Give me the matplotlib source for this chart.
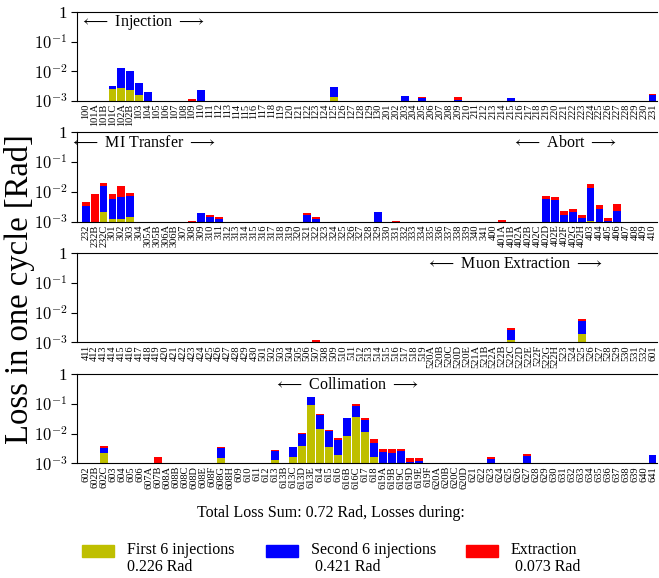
import matplotlib
matplotlib.use("Agg")
import matplotlib.pyplot as plt
import numpy as np
from matplotlib.patches import Rectangle

plt.rcParams["font.family"] = ["Liberation Serif", "DejaVu Serif"]
plt.rcParams["mathtext.fontset"] = "cm"

# ---- tick labels (loss monitor names) per panel ----
labels_1 = (["100", "101A", "101B", "101C", "102A", "102B"]
            + [str(i) for i in range(103, 131)]
            + [str(i) for i in range(201, 232)])
labels_2 = (["232", "232B", "232C", "301", "302", "303", "304",
             "305A", "305B", "306A", "306B"]
            + [str(i) for i in range(307, 342)]
            + ["400", "401A", "401B"] + ["402" + c for c in "ABCDEFGH"]
            + [str(i) for i in range(403, 411)])
labels_3 = ([str(i) for i in range(411, 431)]
            + [str(i) for i in range(501, 520)]
            + ["520" + c for c in "ABCDE"] + ["521A", "521B"]
            + ["522" + c for c in "ABCDEFGH"]
            + [str(i) for i in range(523, 533)] + ["601"])
labels_4 = (["602", "602B", "602C", "603", "604", "605", "606", "607A", "607B"]
            + ["608" + c for c in "ABCDEFGH"]
            + ["609", "610", "611", "612", "613", "613B", "613C", "613D", "613E",
               "614", "615", "616", "616B", "616C", "617", "618"]
            + ["619" + c for c in "ABCDEF"] + ["620" + c for c in "ABCD"]
            + [str(i) for i in range(621, 642)])

# ---- losses [Rad]: first 6 injections, second 6 injections, extraction ----
first_1 = {"101C": 0.00243, "102A": 0.00275, "102B": 0.00236, "103": 0.00155,
           "125": 0.00137}
second_1 = {"101C": 0.00071, "102A": 0.00995, "102B": 0.00784, "103": 0.00245,
            "104": 0.0020, "110": 0.0023, "125": 0.00153, "203": 0.00148,
            "205": 0.00123, "209": 0.00105, "215": 0.00123, "231": 0.00155}
extr_1 = {"102B": 0.0002, "109": 0.00111, "205": 0.0001, "209": 0.00025,
          "231": 0.00017}

first_2 = {"232C": 0.00211, "301": 0.00123, "302": 0.00123, "303": 0.00147,
           "403": 0.00108}
second_2 = {"232": 0.00336, "232C": 0.01363, "301": 0.00452, "302": 0.0055,
            "303": 0.00579, "309": 0.00195, "310": 0.00147, "311": 0.00123,
            "321": 0.00172, "322": 0.00123, "329": 0.00211, "402D": 0.00575,
            "402E": 0.0052, "402F": 0.00172, "402G": 0.00206, "402H": 0.00133,
            "403": 0.01276, "404": 0.00266, "405": 0.00105, "406": 0.00228}
extr_2 = {"232": 0.00121, "232B": 0.00847, "232C": 0.00426, "301": 0.00272,
          "302": 0.00901, "303": 0.0019, "308": 0.00108, "310": 0.00025,
          "311": 0.0002, "321": 0.00023, "322": 0.00024, "331": 0.00102,
          "401A": 0.00114, "402D": 0.00151, "402E": 0.00153, "402F": 0.00056,
          "402G": 0.0006, "402H": 0.00034, "403": 0.00453, "404": 0.00096,
          "405": 0.00028, "406": 0.00164}

first_3 = {"522C": 0.0012, "525": 0.00195}
second_3 = {"522C": 0.00139, "525": 0.00311}
extr_3 = {"507": 0.0012, "522C": 0.00043, "525": 0.00083}

first_4 = {"602C": 0.00222, "608G": 0.00147, "613": 0.0013, "613C": 0.00167,
           "613D": 0.00393, "613E": 0.0935, "614": 0.0146, "615": 0.00363,
           "616": 0.00195, "616B": 0.00828, "616C": 0.037, "617": 0.0113,
           "618": 0.00167}
second_4 = {"602C": 0.00105, "608G": 0.0018, "613": 0.00129, "613C": 0.00196,
            "613D": 0.00573, "613E": 0.0715, "614": 0.0274, "615": 0.00887,
            "616": 0.00413, "616B": 0.02422, "616C": 0.0473, "617": 0.0173,
            "618": 0.00327, "619A": 0.0024, "619B": 0.00222, "619C": 0.00266,
            "619D": 0.0011, "619E": 0.0012, "623": 0.0014, "627": 0.00176,
            "641": 0.0019}
extr_4 = {"602": 0.00103, "602C": 0.00066, "607B": 0.00167, "608B": 0.00103,
          "608G": 0.00018, "610": 0.00103, "613": 0.00021, "613D": 0.0004,
          "613E": 0.007, "614": 0.002, "615": 0.0004, "616": 0.0012,
          "616B": 0.0015, "616C": 0.0141, "617": 0.0056, "618": 0.00181,
          "619A": 0.00062, "619B": 0.0008, "619C": 0.00036, "619D": 0.00041,
          "619E": 0.00031, "623": 0.00023, "627": 0.00035}

# region annotations: (text, x centre in axes fraction)
regions_1 = [("Injection", 0.112)]
regions_2 = [("MI Transfer", 0.113), ("Abort", 0.84)]
regions_3 = [("Muon Extraction", 0.754)]
regions_4 = [("Collimation", 0.464)]

totals = {"First 6 injections": 0.226, "Second 6 injections": 0.421,
          "Extraction": 0.073}
total_sum = 0.72

c_first, c_second, c_extr = (0.75, 0.75, 0.0), (0.0, 0.0, 1.0), (1.0, 0.0, 0.0)

W, H = 659, 578
fig = plt.figure(figsize=(W / 100, H / 100), dpi=100)

panels = [
    (labels_1, first_1, second_1, extr_1, regions_1, 12.0, 100.7),
    (labels_2, first_2, second_2, extr_2, regions_2, 132.3, 221.7),
    (labels_3, first_3, second_3, extr_3, regions_3, 253.0, 342.3),
    (labels_4, first_4, second_4, extr_4, regions_4, 374.0, 463.3),
]

x_left, x_right = 77, 657
for labels, f1, s2, ex, regs, top, bot in panels:
    ax = fig.add_axes([x_left / W, 1 - bot / H, (x_right - x_left) / W, (bot - top) / H])
    n = len(labels)
    x = np.arange(n)
    a = np.array([f1.get(l, 0.0) for l in labels])
    b = np.array([s2.get(l, 0.0) for l in labels])
    c = np.array([ex.get(l, 0.0) for l in labels])
    cum1, cum2, cum3 = a, a + b, a + b + c
    for cum, comp, col in [(cum3, c, c_extr), (cum2, b, c_second), (cum1, a, c_first)]:
        m = comp > 0
        ax.bar(x[m], cum[m], width=0.88, color=col, linewidth=0)
    ax.set_yscale("log")
    ax.set_ylim(1e-3, 1)
    ax.set_xlim(-1, n - 0.5)
    ax.set_yticks([1e-3, 1e-2, 1e-1, 1])
    ax.set_yticklabels([r"$10^{-3}$", r"$10^{-2}$", r"$10^{-1}$", "1"], fontsize=12)
    ax.minorticks_off()
    ax.set_xticks(x)
    ax.set_xticklabels(labels, rotation=90, fontsize=7.5)
    ax.tick_params(axis="x", length=0, pad=2)
    ax.tick_params(axis="y", length=4, direction="out", pad=3)
    ax.spines["right"].set_visible(False)
    for name, xc in regs:
        ax.text(xc, 0.88, r"$\longleftarrow$ " + name + r" $\longrightarrow$",
                transform=ax.transAxes, ha="center", va="center", fontsize=11.5)

fig.text(20 / W, 0.5, "Loss in one cycle [Rad]", rotation=90, ha="center",
         va="center", fontsize=23.5)

fig.text(0.502, 1 - 513 / H, "Total Loss Sum: %.2f Rad, Losses during:" % total_sum,
         ha="center", va="center", fontsize=11.5)

patch_x = [82, 266, 466]
text_pad = ["", " ", " "]
for (name, val), px, col, pad in zip(totals.items(), patch_x,
                                     [c_first, c_second, c_extr], text_pad):
    fig.patches.append(Rectangle((px / W, 1 - 557 / H), 32 / W, 12 / H,
                                 transform=fig.transFigure, color=col))
    fig.text((px + 45) / W, 1 - 550 / H, name, ha="left", va="center", fontsize=11.5)
    fig.text((px + 45) / W, 1 - 567 / H, pad + "%.3f Rad" % val, ha="left",
             va="center", fontsize=11.5)

fig.savefig("out.png", dpi=100)
